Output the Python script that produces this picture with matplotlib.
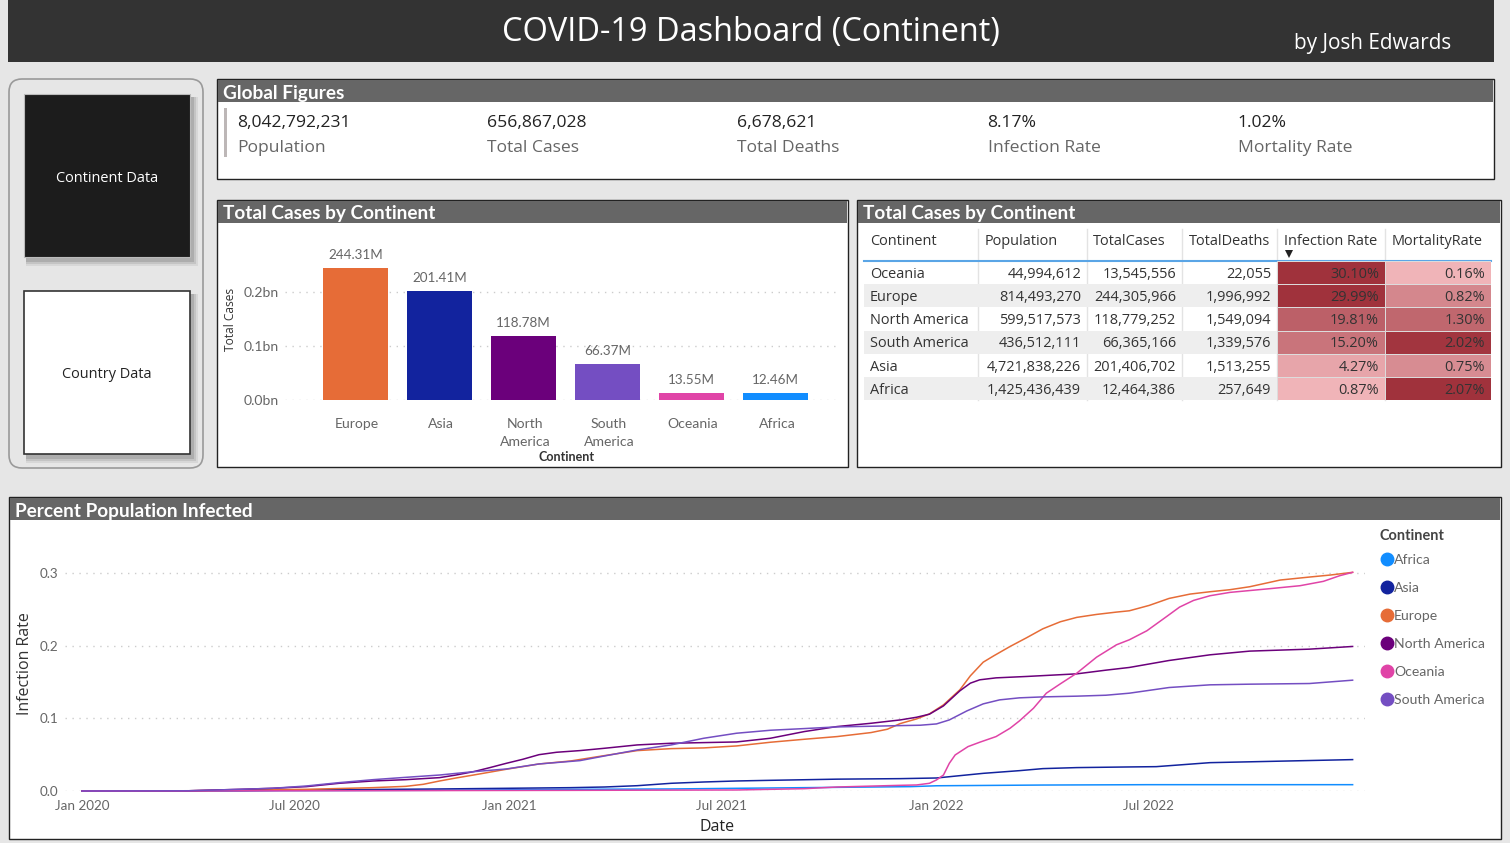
# COVID-19 dashboard (continent) rebuilt with matplotlib
import matplotlib
matplotlib.use("Agg")
import numpy as np
import matplotlib.pyplot as plt
import matplotlib.dates as mdates
from matplotlib.lines import Line2D
from matplotlib.patches import Rectangle, FancyBboxPatch
from matplotlib.colors import LinearSegmentedColormap

# Data
kpi_values = ["8,042,792,231", "656,867,028", "6,678,621", "8.17%", "1.02%"]
kpi_labels = ["Population", "Total Cases", "Total Deaths", "Infection Rate", "Mortality Rate"]

bar_continents = ["Europe", "Asia", "North\nAmerica", "South\nAmerica", "Oceania", "Africa"]
bar_cases = [244.31, 201.41, 118.78, 66.37, 13.55, 12.46]
bar_colors = ["#E66C37", "#12239E", "#6B007B", "#744EC2", "#E044A7", "#118DFF"]

table_header = ["Continent", "Population", "TotalCases", "TotalDeaths", "Infection Rate", "MortalityRate"]
table_names = ["Oceania", "Europe", "North America", "South America", "Asia", "Africa"]
table_pop = ["44,994,612", "814,493,270", "599,517,573", "436,512,111", "4,721,838,226", "1,425,436,439"]
table_cases = ["13,545,556", "244,305,966", "118,779,252", "66,365,166", "201,406,702", "12,464,386"]
table_deaths = ["22,055", "1,996,992", "1,549,094", "1,339,576", "1,513,255", "257,649"]
infection_rate = [30.10, 29.99, 19.81, 15.20, 4.27, 0.87]
mortality_rate = [0.16, 0.82, 1.30, 2.02, 0.75, 2.07]

africa_dates = ["2020-01-01", "2020-05-15", "2020-11-02", "2021-02-22", "2021-05-19", "2021-07-14", "2021-12-10",
                "2022-01-01", "2022-04-02", "2022-07-01", "2022-12-23"]
africa_vals = [0.0, 0.0003, 0.001, 0.0023, 0.0028, 0.0037, 0.006, 0.0072, 0.0082, 0.0087, 0.0087]

asia_dates = ["2020-01-01", "2020-05-15", "2020-07-11", "2020-11-02", "2021-02-22", "2021-03-23", "2021-04-20",
              "2021-05-19", "2021-06-16", "2021-07-14", "2021-08-12", "2021-09-10", "2021-10-08", "2021-12-01",
              "2022-01-01", "2022-02-10", "2022-03-13", "2022-04-02", "2022-05-01", "2022-06-15", "2022-07-08",
              "2022-08-23", "2022-12-23"]
asia_vals = [0.0, 0.0005, 0.0014, 0.0028, 0.0046, 0.0055, 0.0073, 0.0106, 0.0124, 0.0138, 0.0147, 0.0155, 0.0163,
             0.017, 0.0179, 0.0243, 0.028, 0.0308, 0.0322, 0.0331, 0.0335, 0.039, 0.0432]

europe_dates = ["2020-01-01", "2020-04-01", "2020-05-15", "2020-07-11", "2020-09-06", "2020-10-04", "2020-10-19",
                "2020-11-02", "2020-11-16", "2020-12-01", "2020-12-29", "2021-01-26", "2021-02-22", "2021-03-23",
                "2021-04-20", "2021-05-19", "2021-06-16", "2021-07-14", "2021-08-12", "2021-09-10", "2021-10-08",
                "2021-11-06", "2021-11-20", "2021-12-01", "2021-12-15", "2021-12-26", "2022-01-07", "2022-01-21",
                "2022-01-30", "2022-02-10", "2022-02-19", "2022-03-05", "2022-03-19", "2022-04-02", "2022-04-17",
                "2022-05-01", "2022-05-18", "2022-06-04", "2022-06-15", "2022-07-02", "2022-07-19", "2022-08-06",
                "2022-08-23", "2022-09-09", "2022-09-26", "2022-10-13", "2022-10-22", "2022-11-16", "2022-12-04",
                "2022-12-23"]
europe_vals = [0.0, 0.0003, 0.0014, 0.0023, 0.0046, 0.0064, 0.0092, 0.0138, 0.0179, 0.022, 0.0299, 0.0372, 0.0413,
               0.0487, 0.0556, 0.0583, 0.0593, 0.062, 0.0671, 0.0712, 0.0749, 0.0804, 0.085, 0.0928, 0.0992, 0.1061,
               0.1185, 0.1392, 0.1585, 0.1773, 0.186, 0.1989, 0.2108, 0.2232, 0.2329, 0.2389, 0.243, 0.2462, 0.248,
               0.2554, 0.265, 0.271, 0.2742, 0.277, 0.2811, 0.2871, 0.2903, 0.2944, 0.2972, 0.3009]

namerica_dates = ["2020-01-01", "2020-04-01", "2020-05-15", "2020-06-12", "2020-07-11", "2020-08-08", "2020-09-06",
                  "2020-10-04", "2020-11-02", "2020-11-16", "2020-12-01", "2020-12-15", "2020-12-29", "2021-01-12",
                  "2021-01-26", "2021-02-10", "2021-03-02", "2021-03-23", "2021-04-20", "2021-05-19", "2021-06-16",
                  "2021-07-14", "2021-08-12", "2021-09-10", "2021-10-08", "2021-11-06", "2021-12-01", "2021-12-15",
                  "2021-12-26", "2022-01-07", "2022-01-21", "2022-01-30", "2022-02-07", "2022-02-21", "2022-03-19",
                  "2022-05-01", "2022-05-26", "2022-06-15", "2022-07-19", "2022-08-23", "2022-09-26", "2022-11-16",
                  "2022-12-23"]
namerica_vals = [0.0, 0.0003, 0.0023, 0.0037, 0.006, 0.0106, 0.0138, 0.0156, 0.0184, 0.022, 0.0266, 0.0322, 0.0381,
                 0.0436, 0.05, 0.0533, 0.0556, 0.0588, 0.0634, 0.0657, 0.0666, 0.0675, 0.0726, 0.0818, 0.0887, 0.0932,
                 0.0978, 0.1015, 0.1057, 0.1171, 0.1378, 0.1484, 0.153, 0.1557, 0.1576, 0.1612, 0.1663, 0.17, 0.1796,
                 0.1874, 0.1925, 0.1952, 0.1989]

oceania_dates = ["2020-01-01", "2020-07-11", "2021-02-22", "2021-07-14", "2021-09-10", "2021-10-08", "2021-12-01",
                 "2021-12-15", "2021-12-26", "2022-01-01", "2022-01-07", "2022-01-12", "2022-01-17", "2022-01-28",
                 "2022-02-07", "2022-02-21", "2022-03-05", "2022-03-13", "2022-03-25", "2022-04-05", "2022-04-17",
                 "2022-05-01", "2022-05-18", "2022-06-04", "2022-06-15", "2022-06-30", "2022-07-17", "2022-07-28",
                 "2022-08-09", "2022-08-23", "2022-09-09", "2022-10-13", "2022-11-08", "2022-11-28", "2022-12-12",
                 "2022-12-23"]
oceania_vals = [0.0, 0.0003, 0.0009, 0.0014, 0.0032, 0.0055, 0.0078, 0.0083, 0.0106, 0.0152, 0.022, 0.0381, 0.0496,
                0.0611, 0.0671, 0.0749, 0.0864, 0.0965, 0.1139, 0.1346, 0.1475, 0.1621, 0.1842, 0.2012, 0.2081,
                0.2205, 0.2402, 0.2531, 0.2623, 0.2687, 0.2733, 0.2784, 0.2825, 0.2885, 0.2963, 0.3009]

samerica_dates = ["2020-01-01", "2020-04-01", "2020-05-15", "2020-06-12", "2020-07-11", "2020-08-08", "2020-09-06",
                  "2020-10-04", "2020-11-02", "2020-12-01", "2020-12-29", "2021-01-26", "2021-03-02", "2021-03-23",
                  "2021-04-20", "2021-05-19", "2021-06-16", "2021-07-14", "2021-08-12", "2021-09-10", "2021-10-08",
                  "2021-11-06", "2021-12-01", "2021-12-18", "2022-01-01", "2022-01-12", "2022-01-27", "2022-02-10",
                  "2022-02-24", "2022-03-13", "2022-04-02", "2022-05-01", "2022-05-26", "2022-06-15", "2022-07-19",
                  "2022-08-23", "2022-09-26", "2022-11-16", "2022-12-23"]
samerica_vals = [0.0, 0.0003, 0.0023, 0.0037, 0.0069, 0.0115, 0.0156, 0.0188, 0.022, 0.0266, 0.0303, 0.0372, 0.0418,
                 0.0482, 0.0565, 0.0634, 0.0726, 0.0795, 0.0836, 0.0859, 0.0882, 0.0891, 0.09, 0.0905, 0.0923, 0.0978,
                 0.1102, 0.1199, 0.1254, 0.1282, 0.1295, 0.1305, 0.1318, 0.1346, 0.1424, 0.1461, 0.147, 0.1479, 0.1525]

line_ticks = ["2020-01-01", "2020-07-01", "2021-01-01", "2021-07-01", "2022-01-01", "2022-07-01"]
line_tick_labels = ["Jan 2020", "Jul 2020", "Jan 2021", "Jul 2021", "Jan 2022", "Jul 2022"]

W, H = 1510, 843
LATO = ["Lato", "DejaVu Sans"]
SANS = ["Open Sans", "DejaVu Sans"]
GREY = "#666666"


def px(size):
    # font size given in pixels
    return size * 72 / 100


def axes_at(left, top, right, bottom, **kw):
    return fig.add_axes([left / W, 1 - bottom / H, (right - left) / W, (bottom - top) / H], **kw)


def panel(left, top, right, bottom, title):
    bg.add_patch(Rectangle((left, top), right - left, bottom - top, fc="white", ec="#222222", lw=1.0))
    if title:
        bg.add_patch(Rectangle((left + 1, top + 1), right - left - 2, 22, fc=GREY, ec="none"))
        bg.text(left + 6.5, top + 14, title, color="white", fontsize=px(19), family=LATO, weight="bold", va="center")


def shadow(left, top, w, h):
    # soft drop shadow behind the two buttons
    for grow, alpha in [(6, 0.10), (4, 0.14), (2, 0.20)]:
        bg.add_patch(Rectangle((left, top), w + grow, h + grow, fc="#555555", ec="none", alpha=alpha))


plt.rcParams["font.family"] = SANS
fig = plt.figure(figsize=(W / 100, H / 100), dpi=100, facecolor="#e6e6e6")

bg = fig.add_axes([0, 0, 1, 1])
bg.set_xlim(0, W)
bg.set_ylim(H, 0)
bg.axis("off")

# title band
bg.add_patch(Rectangle((8, 0), 1486, 62, fc="#333333", ec="none"))
bg.text(751, 32, "COVID-19 Dashboard (Continent)", color="white", fontsize=px(32.5), ha="center", va="center")
bg.text(1451, 43, "by Josh Edwards", color="white", fontsize=px(20.8), ha="right", va="center")

# navigation buttons
bg.add_patch(FancyBboxPatch((9, 79), 194, 389, boxstyle="round,pad=0,rounding_size=13", fc="#e6e6e6", ec="#9a9a9a", lw=1.2))
shadow(26, 97, 166, 163)
bg.add_patch(Rectangle((24, 94), 166, 163, fc="#1c1c1c", ec="#bbbbbb", lw=0.8))
bg.text(107, 178, "Continent Data", color="white", fontsize=px(14.5), ha="center", va="center")
shadow(26, 294, 166, 163)
bg.add_patch(Rectangle((24, 291), 166, 163, fc="white", ec="#333333", lw=1.2))
bg.text(107, 375, "Country Data", color="#222222", fontsize=px(14.5), ha="center", va="center")

# KPI strip
panel(216.5, 79, 1494, 179, "Global Figures")
bg.add_patch(Rectangle((224, 108), 2.5, 49, fc="#bdb7b7", ec="none"))
for i, (v, l) in enumerate(zip(kpi_values, kpi_labels)):
    x = 237 + i * 250.2
    bg.text(x, 123, v, color="#222222", fontsize=px(17.5), va="center")
    bg.text(x, 148, l, color=GREY, fontsize=px(17.5), va="center")

# bar chart
panel(216.5, 200, 848, 467, "Total Cases by Continent")
ax = axes_at(285, 240, 840, 400)
ax.patch.set_alpha(0)
bars = ax.bar(range(6), np.array(bar_cases) / 1000, width=0.774, color=bar_colors, zorder=3)
ax.bar_label(bars, labels=[f"{v:.2f}M" for v in bar_cases], padding=5, color=GREY, fontsize=px(13.5), family=LATO)
ax.set_xlim(-0.839, 5.768)
ax.set_ylim(0, 0.296)
ax.set_yticks([0, 0.1, 0.2], ["0.0bn", "0.1bn", "0.2bn"])
ax.set_xticks(np.arange(6) + 0.018, bar_continents)
ax.tick_params(length=0, labelcolor=GREY, labelsize=px(14), labelfontfamily="Lato")
ax.tick_params(axis="x", pad=13)
ax.tick_params(axis="y", pad=4.5)
for t in ax.get_xticklabels():
    t.set_linespacing(1.55)
ax.grid(axis="y", color="#cccccc", ls=(0, (1, 4)), lw=1)
ax.set_axisbelow(True)
for s in ax.spines.values():
    s.set_visible(False)
bg.text(566.5, 457, "Continent", color="#333333", fontsize=px(12.5), weight="bold", ha="center", va="center", family=LATO)
bg.text(231, 319, "Total Cases", color="#333333", fontsize=px(12), rotation=90, ha="center", va="center")

# table
panel(856.5, 200, 1501, 467, "Total Cases by Continent")
col_edges = [864, 978, 1087, 1182, 1277, 1385, 1491]
tb = axes_at(864, 261, 1491, 400)
tb.set_xlim(864, 1491)
tb.set_ylim(6, 0)
tb.axis("off")
heat = LinearSegmentedColormap.from_list("heat", ["#f0b4b8", "#a0323c"])
for r in range(6):
    if r % 2:
        tb.barh(r + 0.5, 627, left=864, height=1, color="#eeeeee")
    for c, col in [(4, infection_rate), (5, mortality_rate)]:
        shade = heat((col[r] - min(col)) / (max(col) - min(col)))
        tb.barh(r + 0.5, col_edges[c + 1] - col_edges[c], left=col_edges[c], height=1, color=shade,
                edgecolor="#dddddd", lw=0.7)
    row = [table_pop[r], table_cases[r], table_deaths[r], f"{infection_rate[r]:.2f}%", f"{mortality_rate[r]:.2f}%"]
    tb.text(870, r + 0.58, table_names[r], color="#333333", fontsize=px(14.5), va="center")
    for c, txt in enumerate(row):
        tb.text(col_edges[c + 2] - 6, r + 0.58, txt, color="#333333", fontsize=px(14.5), ha="right", va="center")
for e in col_edges[1:-1]:
    bg.add_line(Line2D([e, e], [229, 400], color="#e3e3e3", lw=1))
for i, h in enumerate(table_header):
    x = [870, 985, 1093, 1189, 1284, 1392][i]
    bg.text(x, 241.5, h, color="#333333", fontsize=px(14.5), va="center")
bg.add_line(Line2D([864, 1491], [260.5, 260.5], color="#5aa5e6", lw=1.5))
bg.plot([1289], [253.5], marker="v", color="#222222", ms=5.5, mew=0)

# line chart
panel(8.5, 497, 1501, 839, "Percent Population Infected")
la = axes_at(65, 540, 1365, 791)
la.patch.set_alpha(0)
series = [("Africa", africa_dates, africa_vals, "#118DFF"),
          ("Asia", asia_dates, asia_vals, "#12239E"),
          ("Europe", europe_dates, europe_vals, "#E66C37"),
          ("North America", namerica_dates, namerica_vals, "#6B007B"),
          ("Oceania", oceania_dates, oceania_vals, "#E044A7"),
          ("South America", samerica_dates, samerica_vals, "#744EC2")]
for name, d, v, c in series:
    la.plot(mdates.datestr2num(d), v, color=c, lw=1.1, label=name, clip_on=False)
start = mdates.datestr2num("2020-01-01")
la.set_xlim(start - 14.5, start + 1097.6)
la.set_ylim(0, 0.3454)
la.set_xticks(mdates.datestr2num(line_ticks), line_tick_labels)
la.set_yticks([0, 0.1, 0.2, 0.3], ["0.0", "0.1", "0.2", "0.3"])
la.tick_params(length=0, labelcolor=GREY, labelsize=px(13.5), labelfontfamily="Lato")
la.tick_params(axis="x", pad=6.5)
la.tick_params(axis="y", pad=4.5)
la.grid(axis="y", color="#cccccc", ls=(0, (1, 4)), lw=1)
la.set_axisbelow(True)
for s in la.spines.values():
    s.set_visible(False)
bg.text(717, 827, "Date", color="#222222", fontsize=px(16), ha="center", va="center")
bg.text(25, 664, "Infection Rate", color="#333333", fontsize=px(16), rotation=90, ha="center", va="center")

handles = [Line2D([], [], ls="none", marker="o", ms=9, color=c, label=n) for n, _, _, c in series]
leg = la.legend(handles=handles, title="Continent", loc="upper left", bbox_to_anchor=(1380 / W, 1 - 529.5 / H),
                bbox_transform=fig.transFigure, frameon=False, alignment="left", handletextpad=0, handlelength=1.0,
                labelspacing=1.135, borderpad=0, borderaxespad=0,
                prop={"size": px(14), "family": LATO}, labelcolor=GREY)
leg._legend_box.sep = 7.7
leg.get_title().set_fontsize(px(14.5))
leg.get_title().set_fontweight("bold")
leg.get_title().set_color("#444444")
leg.get_title().set_family(LATO)

fig.savefig("out.png", dpi=100, facecolor=fig.get_facecolor())
